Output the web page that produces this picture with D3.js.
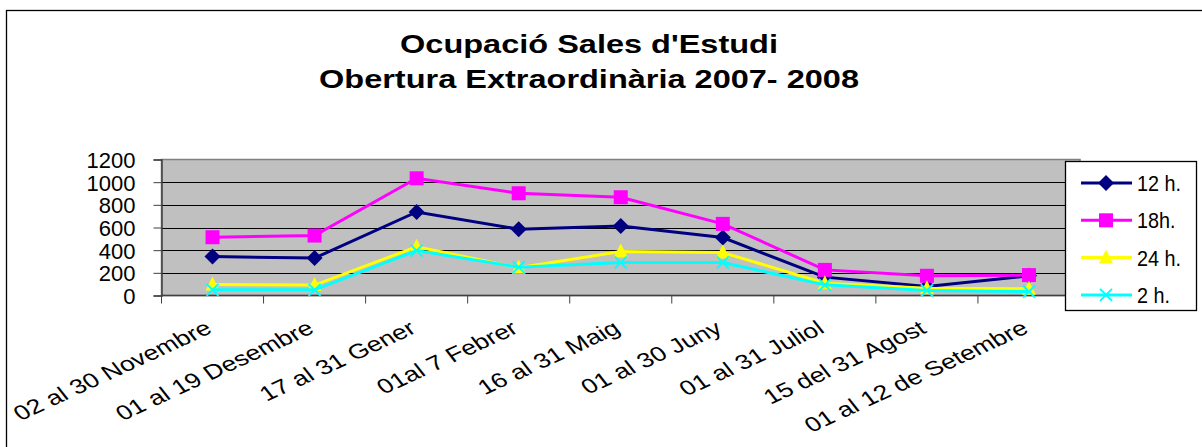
<!DOCTYPE html>
<html>
<head>
<meta charset="utf-8">
<script src="https://cdn.jsdelivr.net/npm/d3@7"></script>
<style>
  body { margin: 0; background: #fff; }
  text { font-family: "Liberation Sans", Arial, sans-serif; fill: #000; }
</style>
</head>
<body>
<div id="chart"></div>
<script>
const titleLines = ["Ocupació Sales d'Estudi", "Obertura Extraordinària 2007- 2008"];
const categories = ["02 al 30 Novembre", "01 al 19 Desembre", "17 al 31 Gener", "01al 7 Febrer",
  "16 al 31 Maig", "01 al 30 Juny", "01 al 31 Juliol", "15 del 31 Agost", "01 al 12 de Setembre"];
const yTicks = [0, 200, 400, 600, 800, 1000, 1200];
const s12 = [344, 330, 737, 585, 614, 511, 162, 79, 174];
const s18 = [514, 529, 1034, 902, 867, 632, 226, 174, 180];
const s24 = [97, 92, 430, 245, 388, 379, 109, 65, 59];
const s2 = [50, 50, 396, 250, 291, 291, 94, 44, 35];

const series = [
  { name: "12 h.", values: s12, color: "#000080", marker: "diamond" },
  { name: "18h.", values: s18, color: "#ff00ff", marker: "square" },
  { name: "24 h.", values: s24, color: "#ffff00", marker: "triangle" },
  { name: "2 h.", values: s2, color: "#00ffff", marker: "cross" }
];

const W = 1202, H = 447;
const plot = { left: 161.5, right: 1080, top: 159.5, bottom: 295.5 };

const svg = d3.select("#chart").append("svg")
  .attr("width", W).attr("height", H);

// outer chart frame
svg.append("rect")
  .attr("x", 6.5).attr("y", 10.5).attr("width", W + 10).attr("height", H + 10)
  .attr("fill", "none").attr("stroke", "#000").attr("stroke-width", 1.3);

// title (the original picture is stretched sideways)
svg.append("g").selectAll("text")
  .data(titleLines).join("text")
    .attr("transform", (d, i) => `translate(589,${53 + i * 35}) scale(1.3,1)`)
    .attr("text-anchor", "middle")
    .attr("font-size", 25).attr("font-weight", "bold")
    .text(d => d);

const x = d3.scaleBand().domain(categories).range([plot.left, plot.right]);
const y = d3.scaleLinear().domain([0, 1200]).range([plot.bottom, plot.top]);

// plot background
svg.append("rect")
  .attr("x", plot.left).attr("y", plot.top)
  .attr("width", plot.right - plot.left).attr("height", plot.bottom - plot.top)
  .attr("fill", "#c0c0c0").attr("stroke", "#808080").attr("stroke-width", 1.5);

// gridlines
svg.append("g").selectAll("line")
  .data(yTicks.filter(d => d > 0 && d < 1200)).join("line")
    .attr("x1", plot.left).attr("x2", plot.right)
    .attr("y1", d => Math.round(y(d)) + 0.5).attr("y2", d => Math.round(y(d)) + 0.5)
    .attr("stroke", "#000").attr("stroke-width", 1);

// y axis
const yAxis = svg.append("g")
  .attr("transform", `translate(${plot.left},0)`)
  .call(d3.axisLeft(y).tickValues(yTicks).tickFormat(d3.format("d")).tickSize(8).tickPadding(18));
yAxis.select(".domain").attr("stroke", "#404040").attr("stroke-width", 1.5);
yAxis.selectAll(".tick line").attr("stroke", "#404040");
yAxis.selectAll(".tick text")
  .attr("font-size", 22).attr("font-family", "Liberation Sans, Arial, sans-serif")
  .attr("fill", "#000").attr("dy", "0.36em");

// x axis: ticks at category boundaries
const xAxis = svg.append("g");
xAxis.append("line")
  .attr("x1", plot.left).attr("x2", plot.right)
  .attr("y1", plot.bottom).attr("y2", plot.bottom)
  .attr("stroke", "#404040").attr("stroke-width", 1.5);
xAxis.selectAll("line.tk")
  .data(categories.concat(["__end"])).join("line")
    .attr("class", "tk")
    .attr("x1", d => d === "__end" ? plot.right : x(d))
    .attr("x2", d => d === "__end" ? plot.right : x(d))
    .attr("y1", plot.bottom).attr("y2", plot.bottom + 8)
    .attr("stroke", "#404040");
xAxis.selectAll("text")
  .data(categories).join("text")
    .attr("transform", d => `translate(${x(d) + x.bandwidth() / 2 + 1},332) scale(1.3,1) rotate(-31)`)
    .attr("text-anchor", "end")
    .attr("font-size", 20.5)
    .text(d => d);

const cx = (d, i) => x(categories[i]) + x.bandwidth() / 2;

function markerPath(type) {
  if (type === "diamond") return "M0,-8L8,0L0,8L-8,0Z";
  if (type === "square") return "M-7,-7H7V7H-7Z";
  if (type === "triangle") return "M0,-8L7,6H-7Z";
  return "M-6,-6L6,6M-6,6L6,-6";
}

const line = d3.line().x(cx).y(d => y(d));

series.forEach(s => {
  const g = svg.append("g");
  g.append("path")
    .attr("d", line(s.values))
    .attr("fill", "none").attr("stroke", s.color).attr("stroke-width", 3);
  g.selectAll("path.m")
    .data(s.values).join("path")
      .attr("class", "m")
      .attr("transform", (d, i) => `translate(${cx(d, i)},${y(d)})`)
      .attr("d", markerPath(s.marker))
      .attr("fill", s.marker === "cross" ? "none" : s.color)
      .attr("stroke", s.color).attr("stroke-width", s.marker === "cross" ? 2 : 0);
});

// legend
const legend = svg.append("g");
legend.append("rect")
  .attr("x", 1065.5).attr("y", 161.5).attr("width", 131).attr("height", 149)
  .attr("fill", "#fff").attr("stroke", "#000").attr("stroke-width", 1.3);
series.forEach((s, i) => {
  const ly = 183 + i * 37.3;
  legend.append("line")
    .attr("x1", 1081).attr("x2", 1132).attr("y1", ly).attr("y2", ly)
    .attr("stroke", s.color).attr("stroke-width", 3);
  legend.append("path")
    .attr("transform", `translate(1106,${ly})`)
    .attr("d", markerPath(s.marker))
    .attr("fill", s.marker === "cross" ? "none" : s.color)
    .attr("stroke", s.color).attr("stroke-width", s.marker === "cross" ? 2 : 0);
  legend.append("text")
    .attr("transform", `translate(1137,${ly}) scale(0.9,1)`)
    .attr("dy", "0.36em")
    .attr("font-size", 22)
    .text(s.name);
});
</script>
</body>
</html>
